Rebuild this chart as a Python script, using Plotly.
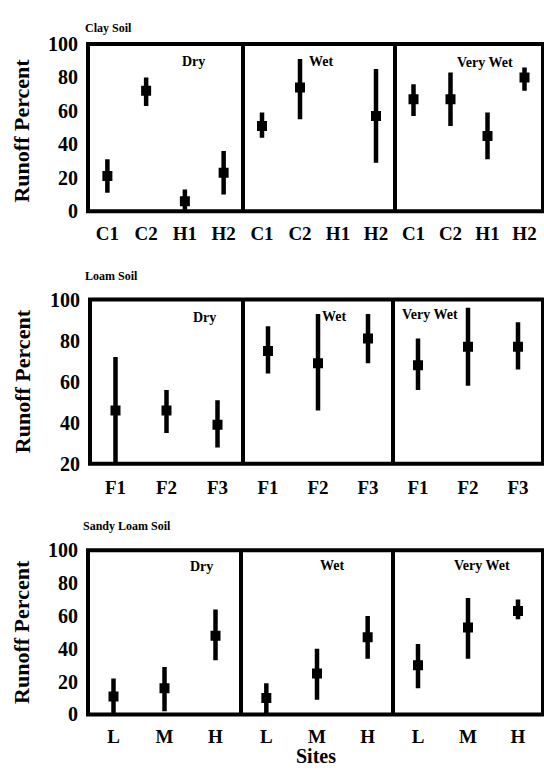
import plotly.graph_objects as go

W, H = 544, 777

# ---------------- data ----------------
conditions = ["Dry", "Wet", "Very Wet"]

clay_sites = ["C1", "C2", "H1", "H2"]
clay_dry_mean = [21, 72, 6, 23]
clay_dry_low = [11, 63, 0, 10]
clay_dry_high = [31, 80, 13, 36]
clay_wet_mean = [51, 74, None, 57]
clay_wet_low = [44, 55, None, 29]
clay_wet_high = [59, 91, None, 85]
clay_vwet_mean = [67, 67, 45, 80]
clay_vwet_low = [57, 51, 31, 72]
clay_vwet_high = [76, 83, 59, 86]

loam_sites = ["F1", "F2", "F3"]
loam_dry_mean = [46, 46, 39]
loam_dry_low = [20, 35, 28]
loam_dry_high = [72, 56, 51]
loam_wet_mean = [75, 69, 81]
loam_wet_low = [64, 46, 69]
loam_wet_high = [87, 93, 93]
loam_vwet_mean = [68, 77, 77]
loam_vwet_low = [56, 58, 66]
loam_vwet_high = [81, 96, 89]

sandy_sites = ["L", "M", "H"]
sandy_dry_mean = [11, 16, 48]
sandy_dry_low = [0, 2, 33]
sandy_dry_high = [22, 29, 64]
sandy_wet_mean = [10, 25, 47]
sandy_wet_low = [0, 9, 34]
sandy_wet_high = [19, 40, 60]
sandy_vwet_mean = [30, 53, 63]
sandy_vwet_low = [16, 34, 58]
sandy_vwet_high = [43, 71, 70]

y_ticks_clay = [0, 20, 40, 60, 80, 100]
y_ticks_loam = [20, 40, 60, 80, 100]
y_ticks_sandy = [0, 20, 40, 60, 80, 100]

rows = [
    dict(title="Clay Soil", sites=clay_sites, yrange=[0, 100], yticks=y_ticks_clay,
         series=[(clay_dry_mean, clay_dry_low, clay_dry_high),
                 (clay_wet_mean, clay_wet_low, clay_wet_high),
                 (clay_vwet_mean, clay_vwet_low, clay_vwet_high)],
         xpx=[88, 243, 395, 543], ypx=[34, 206], title_px=(108, 17), ytitle_y=123,
         label_pos=[(193, 52), (321, 52), (485, 53)], xstand=9),
    dict(title="Loam Soil", sites=loam_sites, yrange=[20, 100], yticks=y_ticks_loam,
         series=[(loam_dry_mean, loam_dry_low, loam_dry_high),
                 (loam_wet_mean, loam_wet_low, loam_wet_high),
                 (loam_vwet_mean, loam_vwet_low, loam_vwet_high)],
         xpx=[90, 243, 393, 543], ypx=[297, 466], title_px=(111, 273), ytitle_y=381,
         label_pos=[(204, 315), (334, 314), (430, 312)], xstand=10),
    dict(title="Sandy Loam Soil", sites=sandy_sites, yrange=[0, 100], yticks=y_ticks_sandy,
         series=[(sandy_dry_mean, sandy_dry_low, sandy_dry_high),
                 (sandy_wet_mean, sandy_wet_low, sandy_wet_high),
                 (sandy_vwet_mean, sandy_vwet_low, sandy_vwet_high)],
         xpx=[88, 241, 393, 543], ypx=[555, 724], title_px=(127, 530), ytitle_y=639,
         label_pos=[(201, 572), (332, 571), (482, 571)], xstand=8),
]

FONT = "Liberation Serif"

fig = go.Figure()
layout = {}
shapes = []
annotations = []

def px_x(x):
    return x / W

def px_y(y):
    return 1 - y / H

k = 0
for r, row in enumerate(rows):
    xp = row["xpx"]
    y0, y1 = row["ypx"]
    n = len(row["sites"])
    for c in range(3):
        k += 1
        xa = "xaxis" if k == 1 else f"xaxis{k}"
        ya = "yaxis" if k == 1 else f"yaxis{k}"
        xr = "x" if k == 1 else f"x{k}"
        yr = "y" if k == 1 else f"y{k}"
        mean, low, high = row["series"][c]
        xs, ys, ep, em = [], [], [], []
        for s, m, lo, hi in zip(row["sites"], mean, low, high):
            if m is None:
                continue
            xs.append(s); ys.append(m); ep.append(hi - m); em.append(m - lo)
        fig.add_trace(go.Scatter(
            x=xs, y=ys, xaxis=xr, yaxis=yr, mode="markers",
            marker=dict(symbol="square", size=10, color="black"),
            error_y=dict(type="data", symmetric=False, array=ep, arrayminus=em,
                         thickness=4.5, width=0, color="black"),
            showlegend=False, hoverinfo="skip"))
        layout[xa] = dict(
            domain=[px_x(xp[c]), px_x(xp[c + 1])], anchor=yr,
            type="category", categoryorder="array", categoryarray=row["sites"],
            tickvals=row["sites"], ticktext=row["sites"],
            range=[-0.5, n - 0.5], showgrid=False, zeroline=False, showline=False,
            ticks="", ticklabelstandoff=row["xstand"],
            tickfont=dict(family=FONT, size=19, color="black", weight="bold"),
            fixedrange=True)
        layout[ya] = dict(
            domain=[px_y(y1), px_y(y0)], anchor=xr, range=row["yrange"],
            tickvals=row["yticks"], showticklabels=(c == 0),
            showgrid=False, zeroline=False, showline=False, ticks="",
            ticklabelstandoff=9,
            tickfont=dict(family=FONT, size=20, color="black", weight="bold"),
            fixedrange=True)
        # condition label
        lx, ly = row["label_pos"][c]
        annotations.append(dict(
            text=conditions[c], x=px_x(lx), y=px_y(ly), xref="paper", yref="paper",
            showarrow=False, xanchor="center", yanchor="middle",
            font=dict(family=FONT, size=14, color="black", weight="bold")))
    # frame
    shapes.append(dict(type="rect", xref="paper", yref="paper",
                       x0=px_x(xp[0]), x1=px_x(xp[3]), y0=px_y(y1), y1=px_y(y0),
                       line=dict(color="black", width=4)))
    for d in (xp[1], xp[2]):
        shapes.append(dict(type="line", xref="paper", yref="paper",
                           x0=px_x(d), x1=px_x(d), y0=px_y(y1), y1=px_y(y0),
                           line=dict(color="black", width=4)))
    # row title
    tx, ty = row["title_px"]
    annotations.append(dict(
        text=row["title"], x=px_x(tx), y=px_y(ty), xref="paper", yref="paper",
        showarrow=False, xanchor="center", yanchor="middle",
        font=dict(family=FONT, size=12, color="black", weight="bold")))
    # y title
    annotations.append(dict(
        text="Runoff Percent", x=px_x(22), y=px_y(row["ytitle_y"]), xref="paper",
        yref="paper", showarrow=False, textangle=-90, xanchor="center",
        yanchor="middle",
        font=dict(family=FONT, size=22, color="black", weight="bold")))

annotations.append(dict(
    text="Sites", x=px_x(316), y=px_y(767), xref="paper", yref="paper",
    showarrow=False, xanchor="center", yanchor="middle",
    font=dict(family=FONT, size=20, color="black", weight="bold")))

fig.update_layout(
    width=W, height=H, margin=dict(l=0, r=0, t=0, b=0),
    paper_bgcolor="white", plot_bgcolor="white",
    shapes=shapes, annotations=annotations, **layout)

fig.write_html("out.html", config={"displayModeBar": False})
